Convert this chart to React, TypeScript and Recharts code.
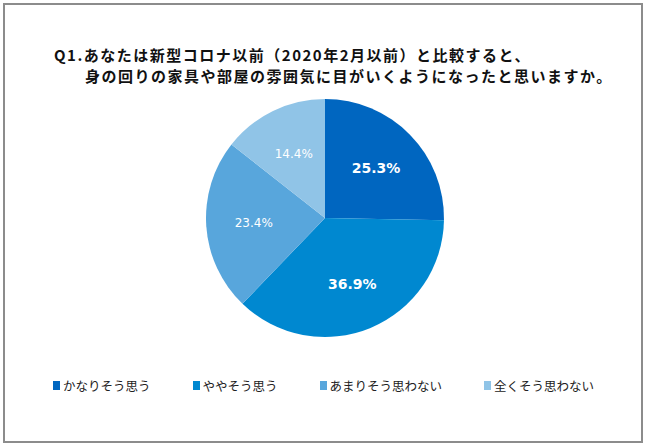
import { PieChart, Pie, Cell, Legend } from 'recharts';

const categories = ['かなりそう思う', 'ややそう思う', 'あまりそう思わない', '全くそう思わない'];
const shares = [25.3, 36.9, 23.4, 14.4];
const colors = ['#0066C0', '#0088D0', '#58A6DC', '#90C4E7'];
const titleLines = [
  'Q1.あなたは新型コロナ以前（2020年2月以前）と比較すると、',
  '身の回りの家具や部屋の雰囲気に目がいくようになったと思いますか。',
];

const JP_FONT = '"Noto Sans CJK JP", "Noto Sans", sans-serif';
const RADIAN = Math.PI / 180;

const chartData = categories.map((name, i) => ({ name, value: shares[i] }));

function renderLabel(props: any) {
  const { cx, cy, midAngle, outerRadius, value } = props;
  const big = value >= 25;
  const r = outerRadius * 0.6;
  const x = cx + r * Math.cos(-midAngle * RADIAN);
  const y = cy + r * Math.sin(-midAngle * RADIAN);
  return (
    <text
      x={x}
      y={y}
      fill="#ffffff"
      textAnchor="middle"
      dominantBaseline="central"
      fontFamily='"DejaVu Sans", Verdana, sans-serif'
      fontSize={big ? 14 : 12}
      fontWeight={big ? 'bold' : 'normal'}
    >
      {value.toFixed(1)}%
    </text>
  );
}

// legend keeps the original category order
function LegendContent() {
  return (
    <div style={{ display: 'flex', gap: 42, fontFamily: JP_FONT, fontSize: 12.5, color: '#222' }}>
      {categories.map((name, i) => (
        <div key={name} style={{ display: 'flex', alignItems: 'center' }}>
          <span style={{ display: 'inline-block', width: 7, height: 9, background: colors[i], marginRight: 3 }} />
          <span>{name}</span>
        </div>
      ))}
    </div>
  );
}

export default function App() {
  return (
    <div style={{ position: 'absolute', left: 0, top: 0, width: 650, height: 448, background: '#fff' }}>
      <div
        style={{
          position: 'absolute',
          left: 3,
          top: 3,
          width: 636,
          height: 436,
          border: '2px solid #8c8c8c',
        }}
      />
      <div
        style={{
          position: 'absolute',
          left: 54,
          top: 44,
          fontFamily: JP_FONT,
          fontWeight: 'bold',
          fontSize: 15,
          letterSpacing: 1.5,
          lineHeight: '21px',
          color: '#111',
          whiteSpace: 'nowrap',
        }}
      >
        <div>{titleLines[0]}</div>
        <div style={{ paddingLeft: 31 }}>{titleLines[1]}</div>
      </div>
      <div style={{ position: 'absolute', left: 0, top: 0 }}>
        <PieChart width={650} height={448} margin={{ top: 0, right: 0, bottom: 0, left: 0 }}>
          <Pie
            data={chartData}
            dataKey="value"
            nameKey="name"
            cx={325}
            cy={218}
            outerRadius={119}
            startAngle={90}
            endAngle={-270}
            stroke="none"
            label={renderLabel}
            labelLine={false}
            isAnimationActive={false}
          >
            {chartData.map((entry, i) => (
              <Cell key={entry.name} fill={colors[i]} />
            ))}
          </Pie>
          <Legend
            content={<LegendContent />}
            wrapperStyle={{ position: 'absolute', left: 53, top: 376, width: 580 }}
          />
        </PieChart>
      </div>
    </div>
  );
}
